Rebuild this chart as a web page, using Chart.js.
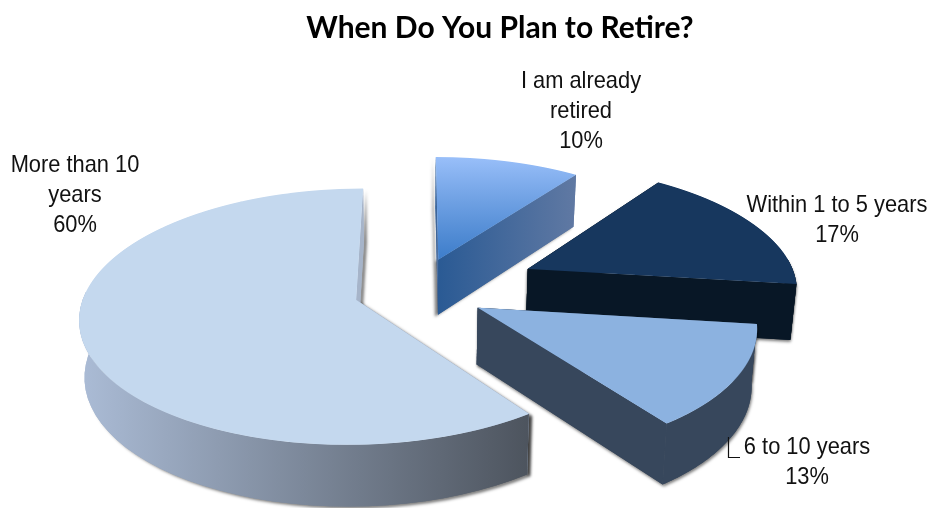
<!doctype html>
<html lang="en">

<head>
    <title>When Do You Plan to Retire?</title>
    <meta charset="utf-8">
    <style>
        html, body { margin: 0; background: #fff; }
        canvas { display: block; }
    </style>
</head>

<body>
    <canvas id="grafico" width="930" height="508"></canvas>

    <script src="https://cdn.jsdelivr.net/npm/chart.js"></script>
    <script>
        const titulo = "When Do You Plan to Retire?";
        const categories = ["I am already retired", "Within 1 to 5 years", "6 to 10 years", "More than 10 years"];
        const percents = [10, 17, 13, 60];
        const labelLines = [["I am already", "retired"], ["Within 1 to 5 years"], ["6 to 10 years"], ["More than 10", "years"]];

        // how far each slice is pulled out, in pie radii
        const explode = [0.275, 0.46, 0.26, 0.23];

        const faceColors = [["#99BFF9", "#3D7DCA"], "#17375E", "#8CB2E0", "#C4D8EE"];
        const sideColors = [["#2A5A94", "#6079A3"], ["#081726", "#081726"], ["#37475C", "#37475C"], ["#A6B4C9", "#A6B4C9"]];
        const rimColors = [["#2A5A94", "#6079A3"], ["#081726", "#081726"], ["#37475C", "#37475C"], ["#ABBCD6", "#4D545E"]];
        const shadowX = [-3, 0, 1, 3];
        const drawOrder = [0, 1, 2, 3];

        const labelPos = [[581, 81], [837, 205], [807, 447], [75, 165]];

        // camera: ground plane with a horizon line, everything shrinks towards it
        const vx = 416, horizon = -660, dist = 951, R0 = 271, p = 0.13;

        function project(X, Y) {
            const w = 1 + p * Y;
            return [vx + R0 * X / w, horizon + dist / w];
        }

        // lower edge of the wall under a point of the top face
        function drop(pt) {
            return [vx + (pt[0] - vx) * 0.984, pt[1] + 52 + (pt[1] - 175) * 0.036];
        }

        function sliceGeometry(arc, i) {
            const mid = (arc.startAngle + arc.endAngle) / 2;
            const ex = explode[i] * Math.cos(mid);
            const ey = -explode[i] * Math.sin(mid);
            const rim = [], frontRim = [];
            const passos = 60;
            for (let k = 0; k <= passos; k++) {
                const a = arc.startAngle + (arc.endAngle - arc.startAngle) * k / passos;
                const pt = project(ex + Math.cos(a), ey - Math.sin(a));
                rim.push(pt);
                // the far part of the rim has no visible wall
                if (Math.sin(a) > -0.1) frontRim.push(pt);
            }
            return { ex, ey, rim, frontRim, mid, apex: project(ex, ey) };
        }

        function fillWall(ctx, top, colors, i, comSombra) {
            if (top.length < 2) return;
            const xs = top.map(q => q[0]).concat(top.map(q => drop(q)[0]));
            const g = ctx.createLinearGradient(Math.min(...xs), 0, Math.max(...xs), 0);
            g.addColorStop(0, colors[0]);
            g.addColorStop(1, colors[1]);
            ctx.save();
            if (comSombra) {
                ctx.shadowColor = "rgba(0,0,0,0.5)";
                ctx.shadowBlur = 3;
                ctx.shadowOffsetX = shadowX[i];
                ctx.shadowOffsetY = 2;
            }
            ctx.fillStyle = g;
            ctx.beginPath();
            top.forEach((q, k) => k ? ctx.lineTo(q[0], q[1]) : ctx.moveTo(q[0], q[1]));
            top.slice().reverse().forEach(q => {
                const d = drop(q);
                ctx.lineTo(d[0], d[1]);
            });
            ctx.closePath();
            ctx.fill();
            ctx.restore();
        }

        // the arc is drawn one pixel row at a time, each row with its own scale
        function drawFace(ctx, arc, geo, chart) {
            const ys = geo.rim.map(q => q[1]).concat(geo.apex[1]);
            const y0 = Math.floor(Math.min(...ys)) - 1;
            const y1 = Math.ceil(Math.max(...ys)) + 1;
            const r = arc.outerRadius;
            for (let y = y0; y < y1; y++) {
                const ym = y + 0.5;
                const w = dist / (ym - horizon);
                const Y0 = (w - 1) / p;
                const sx = R0 / (w * r);
                const sy = dist * p / (w * w * r);
                ctx.save();
                ctx.beginPath();
                ctx.rect(0, y, chart.width, 1);
                ctx.clip();
                ctx.setTransform(sx, 0, 0, sy,
                    vx + R0 * geo.ex / w - arc.x * sx,
                    ym + sy * r * (Y0 - geo.ey) - arc.y * sy);
                arc.draw(ctx);
                ctx.restore();
            }
        }

        const pie3d = {
            id: "pie3d",
            beforeDatasetDraw(chart) {
                const ctx = chart.ctx;
                const arcs = chart.getDatasetMeta(0).data;
                drawOrder.forEach(i => {
                    const geo = sliceGeometry(arcs[i], i);
                    const first = geo.rim[0], last = geo.rim[geo.rim.length - 1];
                    const farSlice = Math.sin(geo.mid) < 0;
                    // shadows first, so no wall throws one on its neighbour
                    [true, false].forEach(comSombra => {
                        if (farSlice) fillWall(ctx, geo.frontRim, rimColors[i], i, comSombra);
                        fillWall(ctx, [geo.apex, first], sideColors[i], i, comSombra);
                        fillWall(ctx, [geo.apex, last], sideColors[i], i, comSombra);
                        if (!farSlice) fillWall(ctx, geo.frontRim, rimColors[i], i, comSombra);
                    });
                    drawFace(ctx, arcs[i], geo, chart);
                });
                return false;
            },
            afterDraw(chart) {
                const ctx = chart.ctx;
                ctx.save();
                ctx.fillStyle = "#111";
                ctx.font = "24px 'Liberation Sans'";
                ctx.textAlign = "center";
                ctx.textBaseline = "middle";
                labelLines.forEach((linhas, i) => {
                    const todas = linhas.concat(percents[i] + "%");
                    todas.forEach((t, k) => {
                        ctx.save();
                        ctx.translate(labelPos[i][0], labelPos[i][1] + k * 30);
                        ctx.scale(0.91, 1);
                        ctx.fillText(t, 0, 0);
                        ctx.restore();
                    });
                });
                // leader line of the 6 to 10 years label
                ctx.strokeStyle = "#111";
                ctx.lineWidth = 1.2;
                ctx.beginPath();
                ctx.moveTo(728.5, 437);
                ctx.lineTo(728.5, 457.5);
                ctx.lineTo(740, 457.5);
                ctx.stroke();
                ctx.restore();
            }
        };

        new Chart(document.querySelector("#grafico"), {
            type: "pie",
            data: {
                labels: categories,
                datasets: [{
                    data: percents,
                    borderWidth: 0,
                    backgroundColor(c) {
                        const cor = faceColors[c.dataIndex];
                        const area = c.chart.chartArea;
                        if (typeof cor === "string") return cor;
                        if (!area) return cor[0];
                        const meio = (area.top + area.bottom) / 2;
                        const raio = Math.min(area.width, area.height) / 2;
                        const g = c.chart.ctx.createLinearGradient(0, meio - raio, 0, meio);
                        g.addColorStop(0, cor[0]);
                        g.addColorStop(1, cor[1]);
                        return g;
                    }
                }]
            },
            options: {
                responsive: false,
                animation: false,
                layout: { padding: { left: 70 } },
                plugins: {
                    legend: { display: false },
                    tooltip: { enabled: false },
                    title: {
                        display: true,
                        text: titulo,
                        color: "#000",
                        font: { family: "Lato", size: 30, weight: "bold" },
                        padding: { top: 10, bottom: 10 }
                    }
                }
            },
            plugins: [pie3d]
        });
    </script>
</body>
</html>
